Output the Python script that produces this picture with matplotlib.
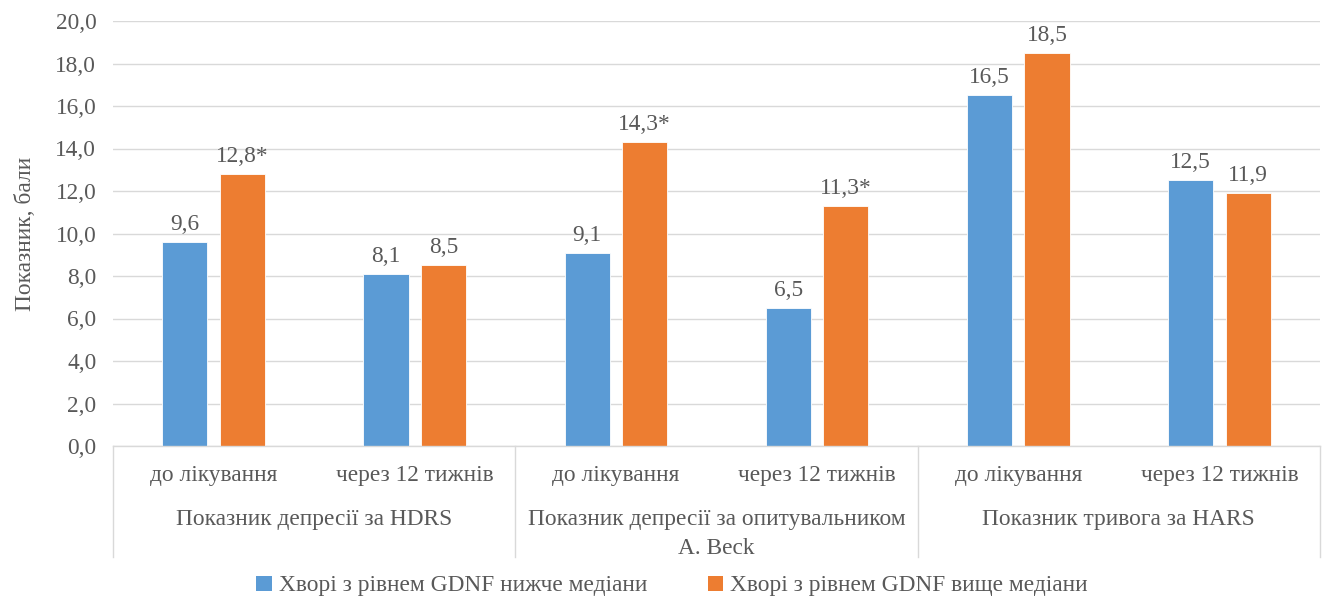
import matplotlib
matplotlib.use("Agg")
import matplotlib.pyplot as plt
from matplotlib.patches import Patch
import numpy as np

# Data
groups = ["Показник депресії за HDRS",
          "Показник депресії за опитувальником\nA. Beck",
          "Показник тривога за HARS"]
periods = ["до лікування", "через 12 тижнів"]
series_names = ["Хворі з рівнем GDNF нижче медіани",
                "Хворі з рівнем GDNF вище медіани"]
below_median = [9.6, 8.1, 9.1, 6.5, 16.5, 12.5]
above_median = [12.8, 8.5, 14.3, 11.3, 18.5, 11.9]
significant = [True, False, True, True, False, False]

TEXT = "#595959"
GRID = "#D9D9D9"
BLUE = "#5B9BD5"
ORANGE = "#ED7D31"
FS = 16.8

plt.rcParams["font.family"] = "serif"
plt.rcParams["font.serif"] = ["Liberation Serif", "Times New Roman", "DejaVu Serif"]

fig = plt.figure(figsize=(13.25, 5.97), dpi=100)
ax = fig.add_axes([113 / 1325, 1 - 446 / 597, (1320 - 113) / 1325, 425 / 597])

n = len(below_median)
x = np.arange(n)
width = 0.224
off = 0.143

ax.bar(x - off, below_median, width, color=BLUE, edgecolor="white", linewidth=0.6, zorder=3)
ax.bar(x + off, above_median, width, color=ORANGE, edgecolor="white", linewidth=0.6, zorder=3)


def fmt(v):
    return f"{v:.1f}".replace(".", ",")


for xi, v in zip(x, below_median):
    ax.annotate(fmt(v), (xi - off, v), xytext=(0, 5), textcoords="offset points",
                ha="center", va="bottom", fontsize=FS, color=TEXT)
for xi, v, s in zip(x, above_median, significant):
    ax.annotate(fmt(v) + ("*" if s else ""), (xi + off, v), xytext=(0, 5),
                textcoords="offset points", ha="center", va="bottom",
                fontsize=FS, color=TEXT)

ax.set_xlim(-0.5, n - 0.5)
ax.set_ylim(0, 20)
ticks = np.arange(0, 21, 2)
ax.set_yticks(ticks)
ax.set_yticklabels([fmt(t) for t in ticks], fontsize=FS, color=TEXT)
ax.tick_params(axis="y", length=0, pad=12)
ax.set_xticks([])
ax.grid(axis="y", color=GRID, linewidth=1, zorder=0)
for sp in ax.spines.values():
    sp.set_visible(False)

ax.set_ylabel("Показник, бали", fontsize=FS, color=TEXT, labelpad=14)

# Two-level category axis
trans = ax.get_xaxis_transform()
ax.plot([-0.5, n - 0.5], [0, 0], transform=trans, color=GRID, lw=1, clip_on=False, zorder=4)
line_bottom = -(557 - 446) / 425
for bx in [-0.5, 1.5, 3.5, 5.5]:
    ax.plot([bx, bx], [0, line_bottom], transform=trans, color=GRID, lw=1, clip_on=False)

for i in range(n):
    ax.text(x[i], -(476 - 446) / 425, periods[i % 2], transform=trans,
            ha="center", va="center", fontsize=FS, color=TEXT)
for g, name in enumerate(groups):
    ax.text(2 * g + 0.5, -(509 - 446) / 425, name, transform=trans,
            ha="center", va="top", fontsize=FS, color=TEXT, linespacing=1.5)

handles = [Patch(facecolor=BLUE, edgecolor="none"), Patch(facecolor=ORANGE, edgecolor="none")]
fig.legend(handles, series_names, loc="center", bbox_to_anchor=(672 / 1325, 1 - 586 / 597),
           ncol=2, frameon=False, fontsize=FS, labelcolor=TEXT,
           handlelength=0.65, handleheight=0.65, handletextpad=0.3, columnspacing=2.6)

fig.savefig("out.png", dpi=100)
